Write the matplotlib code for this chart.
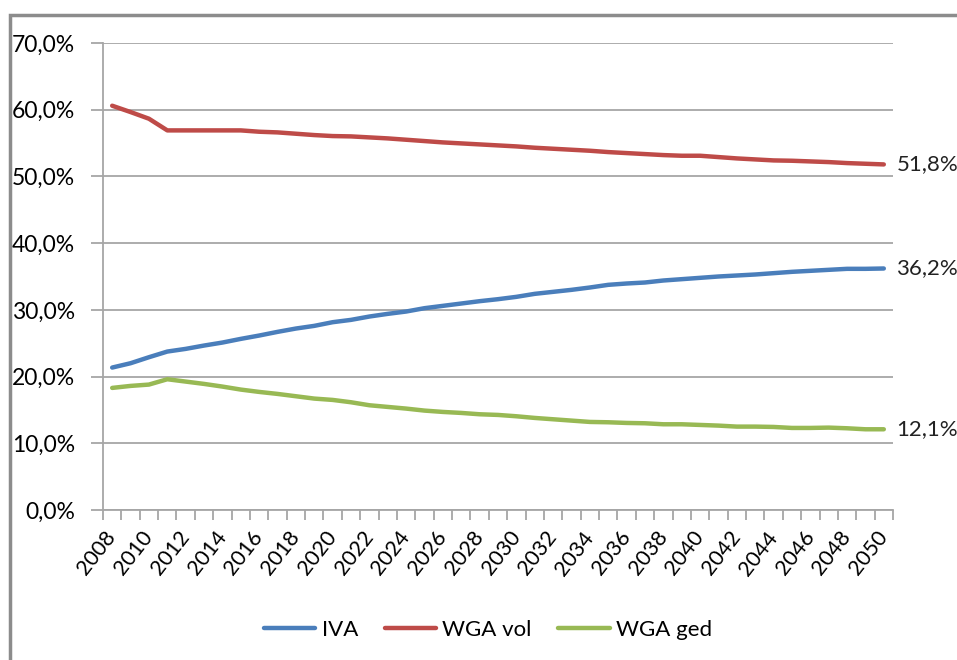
import matplotlib.pyplot as plt
from matplotlib.patches import Rectangle
from matplotlib.ticker import FuncFormatter, MultipleLocator

years = list(range(2008, 2051))

iva = [21.35, 22.0, 22.9, 23.75, 24.15, 24.65, 25.1, 25.65, 26.15, 26.7,
       27.2, 27.6, 28.15, 28.5, 29.0, 29.4, 29.75, 30.25, 30.6, 30.95,
       31.3, 31.6, 31.95, 32.4, 32.7, 33.0, 33.35, 33.75, 33.95, 34.1,
       34.4, 34.6, 34.8, 35.0, 35.15, 35.3, 35.5, 35.7, 35.85, 36.0,
       36.15, 36.15, 36.2]

wga_vol = [60.6, 59.65, 58.65, 56.9, 56.9, 56.9, 56.9, 56.9, 56.7, 56.6,
           56.4, 56.2, 56.05, 56.0, 55.85, 55.7, 55.5, 55.3, 55.1, 54.95,
           54.8, 54.65, 54.5, 54.3, 54.15, 54.0, 53.85, 53.65, 53.5, 53.35,
           53.2, 53.1, 53.1, 52.9, 52.7, 52.55, 52.4, 52.35, 52.25, 52.15,
           52.0, 51.9, 51.8]

wga_ged = [18.3, 18.6, 18.8, 19.6, 19.25, 18.9, 18.5, 18.05, 17.7, 17.4,
           17.05, 16.7, 16.5, 16.15, 15.7, 15.45, 15.2, 14.9, 14.7, 14.55,
           14.35, 14.25, 14.05, 13.8, 13.6, 13.4, 13.2, 13.15, 13.05, 13.0,
           12.85, 12.85, 12.75, 12.65, 12.5, 12.5, 12.45, 12.3, 12.3, 12.35,
           12.25, 12.1, 12.1]

series = [("IVA", iva, "#4A7EBB"),
          ("WGA vol", wga_vol, "#BE4B48"),
          ("WGA ged", wga_ged, "#98B954")]

plt.rcParams['font.family'] = ['Lato', 'DejaVu Sans']

W, H = 957, 660
fig = plt.figure(figsize=(W / 100, H / 100), dpi=100)
ax = fig.add_axes([103 / W, 1 - 510 / H, (893 - 103) / W, (510 - 43) / H])

# rand van de grafiek (rechts en onder afgesneden, zoals in het origineel)
fig.patches.append(Rectangle((10 / W, -0.1), 1.2, 1 - 15 / H + 0.1,
                             transform=fig.transFigure, fill=False,
                             edgecolor="#8C8C8C", linewidth=2.5))

x = list(range(len(years)))
for name, vals, color in series:
    ax.plot(x, vals, color=color, linewidth=3.2, label=name,
            solid_capstyle="round")
    ax.annotate(f"{vals[-1]:.1f}%".replace(".", ","), (x[-1], vals[-1]),
                xytext=(9, 0), textcoords="offset points", va="center",
                ha="left", fontsize=16, color="#222222", annotation_clip=False)

ax.set_xlim(-0.5, len(years) - 0.5)
ax.set_ylim(0, 70)
ax.yaxis.set_major_locator(MultipleLocator(10))
ax.yaxis.set_major_formatter(FuncFormatter(lambda v, p: f"{v:.1f}%".replace(".", ",")))
ax.grid(axis="y", color="#A6A6A6", linewidth=1.3)
ax.set_axisbelow(True)

ax.set_xticks(x[::2])
ax.set_xticklabels([str(y) for y in years[::2]], rotation=52, ha="right",
                   va="center", rotation_mode="anchor", fontsize=15.5)
ax.set_xticks([i - 0.5 for i in range(len(years) + 1)], minor=True)
ax.tick_params(axis="x", which="major", length=0, pad=17)
ax.tick_params(axis="x", which="minor", length=7, color="#A6A6A6", width=1.3)
ax.tick_params(axis="y", length=9, color="#A6A6A6", width=1.3, pad=11,
               labelsize=16.5)

for s in ["top", "right"]:
    ax.spines[s].set_visible(False)
for s in ["left", "bottom"]:
    ax.spines[s].set_color("#A6A6A6")
    ax.spines[s].set_linewidth(1.3)

fig.legend(loc="center", bbox_to_anchor=(0.51, 1 - 630 / H), ncol=3,
           frameon=False, fontsize=16, handlelength=2.3, columnspacing=1.2,
           handletextpad=0.3)

fig.savefig("out.png", dpi=100)
